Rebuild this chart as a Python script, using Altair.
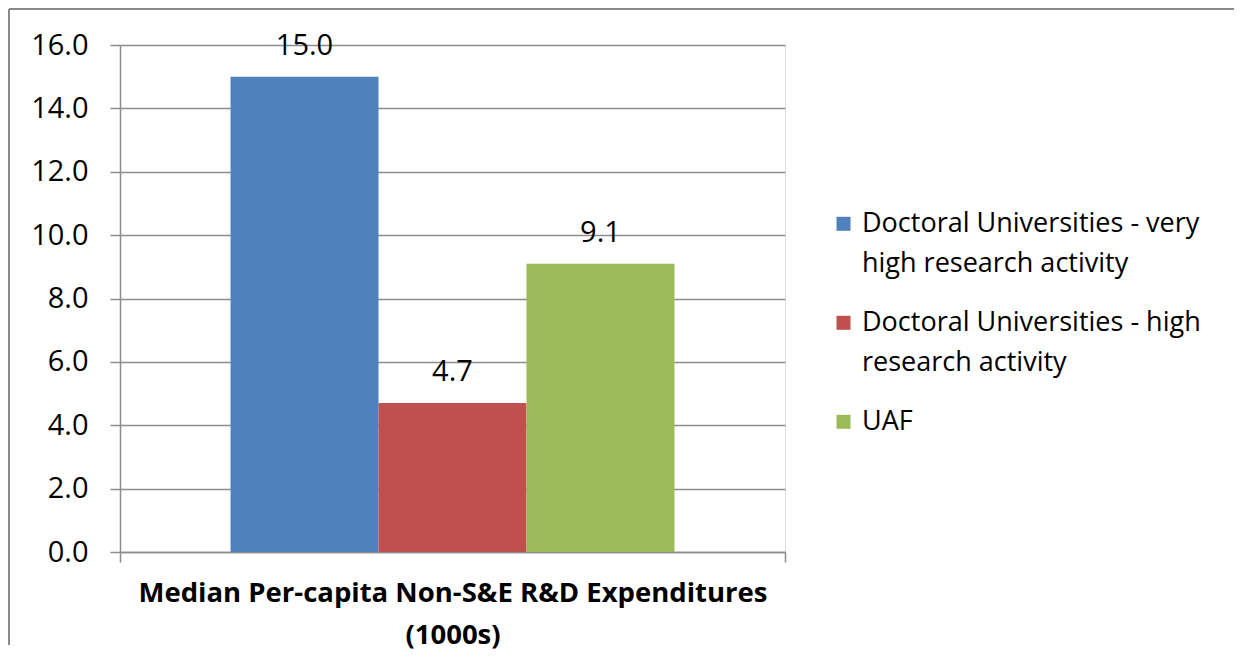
import altair as alt
import pandas as pd

category = "Median Per-capita Non-S&E R&D Expenditures\n(1000s)"
series = [
    "Doctoral Universities - very\nhigh research activity",
    "Doctoral Universities - high\nresearch activity",
    "UAF",
]
values = [15.0, 4.7, 9.1]
colors = ["#4F81BD", "#C0504D", "#9BBB59"]
y_ticks = [0, 2, 4, 6, 8, 10, 12, 14, 16]

df = pd.DataFrame({"category": [category] * 3, "series": series, "value": values})

GRAY = "#8c8c8c"
FONT = "Open Sans"

x_enc = alt.X(
    "category:N",
    scale=alt.Scale(paddingInner=0, paddingOuter=0),
    axis=alt.Axis(
        title=None,
        labelExpr="split(datum.label, '\\n')",
        labelFont=FONT,
        labelFontSize=27.5,
        labelFontWeight="bold",
        labelLineHeight=42,
        labelColor="black",
        labelAngle=0,
        labelLimit=1000,
        labelPadding=17,
        tickBand="extent",
        tickSize=10,
        tickColor=GRAY,
        tickWidth=1.5,
        domainColor=GRAY,
        domainWidth=1.5,
    ),
)
xoff_enc = alt.XOffset(
    "series:N", sort=series, scale=alt.Scale(paddingInner=0, paddingOuter=0.747)
)
y_enc = alt.Y(
    "value:Q",
    scale=alt.Scale(domain=[0, 16], nice=False),
    axis=alt.Axis(
        title=None,
        values=y_ticks,
        format=".1f",
        grid=True,
        gridColor=GRAY,
        gridWidth=1.5,
        tickSize=10,
        tickColor=GRAY,
        tickWidth=1.5,
        domainColor=GRAY,
        domainWidth=1.5,
        labelFont=FONT,
        labelFontSize=29,
        labelColor="black",
        labelPadding=22,
    ),
)

base = alt.Chart(df)

bars = base.mark_bar().encode(
    x=x_enc,
    xOffset=xoff_enc,
    y=y_enc,
    color=alt.Color(
        "series:N",
        sort=series,
        scale=alt.Scale(domain=series, range=colors),
        legend=alt.Legend(
            title=None,
            orient="none",
            legendX=710,
            legendY=152,
            symbolType="M-1,0.9H1V2.9H-1Z",
            symbolSize=196,
            symbolStrokeWidth=0,
            labelFont=FONT,
            labelFontSize=27,
            labelColor="black",
            labelLimit=600,
            labelOffset=5,
            labelExpr="split(datum.label, '\\n')",
            labelBaseline="top",
            rowPadding=19,
        ),
    ),
)

labels = base.mark_text(dy=-31, font=FONT, fontSize=29, color="black", baseline="middle").encode(
    x=x_enc,
    xOffset=xoff_enc,
    y=y_enc,
    text=alt.Text("value:Q", format=".1f"),
)

edge = pd.DataFrame({"b": [0]})
border_left = alt.Chart(edge).mark_rule(color="#8a8a8a", strokeWidth=2).encode(
    x=alt.value(-111), y=alt.value(-36), y2=alt.value(600)
)
border_top = alt.Chart(edge).mark_rule(color="#8a8a8a", strokeWidth=2).encode(
    x=alt.value(-111), x2=alt.value(1114), y=alt.value(-36)
)

chart = (
    alt.layer(border_left, border_top, bars, labels)
    .properties(
        width=665,
        height=507,
        padding={"left": 112, "top": 37, "right": 450, "bottom": 100},
        autosize=alt.AutoSizeParams(type="none"),
    )
    .configure_view(strokeWidth=0)
    .configure(style={"guide-label": {"lineHeight": 40}})
)

chart.save("out.html", embed_options={"renderer": "svg", "actions": False})
